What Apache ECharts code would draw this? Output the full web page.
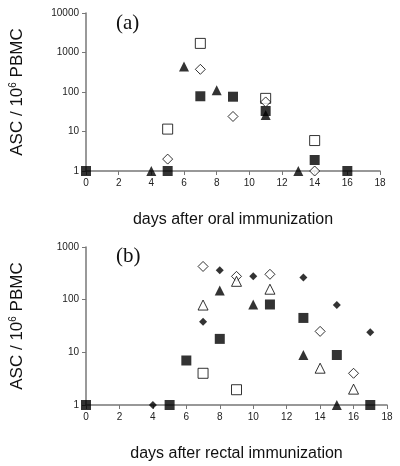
<!DOCTYPE html>
<html><head><meta charset="utf-8">
<script src="https://cdn.jsdelivr.net/npm/echarts@6/dist/echarts.min.js"></script>
<style>html,body{margin:0;padding:0;background:#fff}#c{width:400px;height:466px}</style>
</head><body><div id="c"></div>
<script>
// Panel (a): oral immunization
const aOpenSquareDays = [5, 7, 11, 14];
const aOpenSquareVals = [11.5, 1700, 69, 5.9];
const aOpenDiamondDays = [5, 7, 9, 11, 14];
const aOpenDiamondVals = [2, 375, 24, 56, 1];
const aFilledTriDays = [4, 6, 8, 11, 13];
const aFilledTriVals = [1, 440, 110, 26, 1];
const aFilledSquareDays = [0, 5, 7, 9, 11, 14, 16];
const aFilledSquareVals = [1, 1, 78, 76, 33, 1.9, 1];

// Panel (b): rectal immunization
const bOpenDiamondDays = [7, 9, 11, 14, 16];
const bOpenDiamondVals = [427, 277, 303, 25, 4];
const bFilledDiamondDays = [4, 7, 8, 10, 13, 15, 17];
const bFilledDiamondVals = [1, 38, 360, 277, 265, 79, 24];
const bOpenTriDays = [7, 9, 11, 14, 16];
const bOpenTriVals = [79, 223, 158, 5, 2];
const bFilledTriDays = [8, 10, 13, 15];
const bFilledTriVals = [150, 81, 8.9, 1];
const bFilledSquareDays = [0, 5, 6, 8, 11, 13, 15, 17];
const bFilledSquareVals = [1, 1, 7, 18, 81, 45, 8.9, 1];
const bOpenSquareDays = [7, 9];
const bOpenSquareVals = [4, 1.95];

const xTitles = ['days after oral immunization', 'days after rectal immunization'];
const panelLabels = ['(a)', '(b)'];

function pts(d, v) { return d.map((x, i) => [x, v[i]]); }

const filled = { color: '#000', borderColor: '#000', borderWidth: 0 };
const open = { color: '#fff', borderColor: '#000', borderWidth: 1 };

function ser(idx, d, v, symbol, size, style) {
  return { type: 'scatter', xAxisIndex: idx, yAxisIndex: idx, data: pts(d, v),
    symbol: symbol, symbolSize: size, itemStyle: style, z: style === open ? 3 : 2, emphasis: { disabled: true } };
}

const axisGray = '#777';
function xAx(idx) {
  return { type: 'value', gridIndex: idx, min: 0, max: 18, interval: 2,
    name: xTitles[idx], nameLocation: 'middle', nameGap: 41,
    nameTextStyle: { fontFamily: 'Liberation Sans, Arial', fontSize: 16, color: '#111' },
    axisLine: { onZero: false, lineStyle: { color: axisGray, width: 1.5 } },
    axisTick: { show: true, length: 4, lineStyle: { color: axisGray } },
    axisLabel: { fontFamily: 'Liberation Sans, Arial', fontSize: 10, color: '#222', margin: 7 },
    splitLine: { show: false } };
}
function yAx(idx, max) {
  return { type: 'log', logBase: 10, gridIndex: idx, min: 1, max: max,
    name: 'ASC / 10{sup|6} PBMC', nameLocation: 'middle', nameGap: 59, nameRotate: 90,
    nameTextStyle: { fontFamily: 'Liberation Sans, Arial', fontSize: 17, color: '#111',
      rich: { sup: { fontSize: 10, verticalAlign: 'top', padding: [0, 0, 9, 0], fontFamily: 'Liberation Sans, Arial', color: '#111' } } },
    axisLine: { show: true, lineStyle: { color: axisGray, width: 1.5 } },
    axisTick: { show: true, length: 4, lineStyle: { color: axisGray } },
    axisLabel: { fontFamily: 'Liberation Sans, Arial', fontSize: 10, color: '#222', margin: 7,
      formatter: v => String(Math.round(v)) },
    splitLine: { show: false }, minorTick: { show: false } };
}

const chart = echarts.init(document.getElementById('c'), null, { renderer: 'canvas' });
chart.setOption({
  animation: false,
  backgroundColor: '#fff',
  title: [
    { text: panelLabels[0], left: 111, top: 8, textStyle: { fontFamily: 'Liberation Serif, Times New Roman', fontSize: 21, fontWeight: 'normal', color: '#111' } },
    { text: panelLabels[1], left: 111, top: 241, textStyle: { fontFamily: 'Liberation Serif, Times New Roman', fontSize: 21, fontWeight: 'normal', color: '#111' } }
  ],
  grid: [
    { left: 86, right: 20, top: 13, height: 158 },
    { left: 86, right: 13, top: 247, height: 158 }
  ],
  xAxis: [xAx(0), xAx(1)],
  yAxis: [yAx(0, 10000), yAx(1, 1000)],
  series: [
    ser(0, aFilledTriDays, aFilledTriVals, 'triangle', 10, filled),
    ser(0, aFilledSquareDays, aFilledSquareVals, 'rect', 10, filled),
    ser(0, aOpenSquareDays, aOpenSquareVals, 'rect', 10, open),
    ser(0, aOpenDiamondDays, aOpenDiamondVals, 'diamond', 10, open),
    ser(1, bFilledDiamondDays, bFilledDiamondVals, 'diamond', 8, filled),
    ser(1, bFilledTriDays, bFilledTriVals, 'triangle', 10, filled),
    ser(1, bFilledSquareDays, bFilledSquareVals, 'rect', 10, filled),
    ser(1, bOpenDiamondDays, bOpenDiamondVals, 'diamond', 10, open),
    ser(1, bOpenTriDays, bOpenTriVals, 'triangle', 10, open),
    ser(1, bOpenSquareDays, bOpenSquareVals, 'rect', 10, open)
  ]
});
</script></body></html>
